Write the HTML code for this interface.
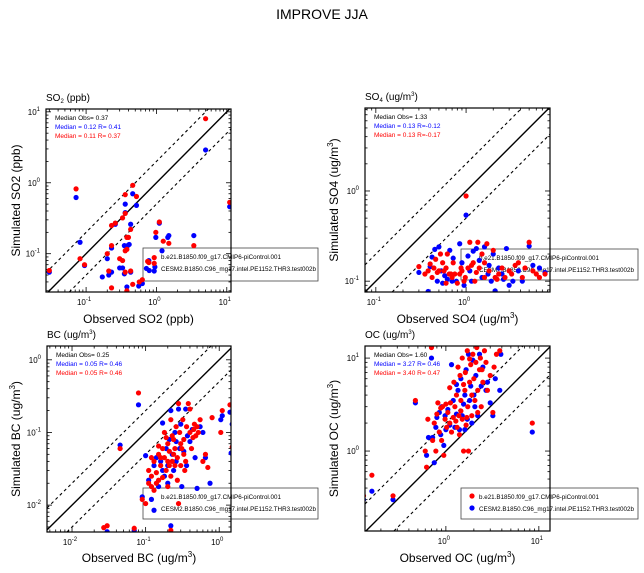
<!DOCTYPE html>
<html><head><meta charset="utf-8"><style>
html,body{margin:0;padding:0;background:#fff;overflow:hidden;width:644px;height:573px;}
svg{display:block;font-family:"Liberation Sans",sans-serif;}
</style></head><body>
<svg id="chart" width="644" height="573" viewBox="0 0 644 573" xmlns="http://www.w3.org/2000/svg" overflow="hidden">
<text x="322" y="19" text-anchor="middle" font-size="14">IMPROVE JJA</text>
</svg>
<script>
// ---- data ----
const so2Red = [[0.03,0.058],[0.072,0.82],[0.082,0.085],[0.095,0.07],[0.2,0.1],[0.21,0.057],[0.23,0.25],[0.23,0.13],[0.23,0.033],[0.26,0.27],[0.3,0.085],[0.33,0.08],[0.33,0.32],[0.36,0.055],[0.36,0.68],[0.36,0.37],[0.36,0.11],[0.38,0.03],[0.38,0.17],[0.38,0.115],[0.4,0.17],[0.43,0.22],[0.43,0.057],[0.46,0.92],[0.46,0.037],[0.52,0.64],[0.57,0.04],[0.63,0.043],[0.75,0.078],[0.78,0.075],[0.93,0.088],[0.93,0.073],[0.98,0.2],[1.1,0.28],[1.25,0.15],[1.5,0.14],[3.4,0.13],[5,8],[11,0.53]];
const so2Blue = [[0.03,0.055],[0.072,0.62],[0.082,0.145],[0.095,0.068],[0.17,0.047],[0.2,0.085],[0.21,0.05],[0.23,0.12],[0.23,0.055],[0.26,0.26],[0.3,0.063],[0.33,0.063],[0.35,0.052],[0.35,0.13],[0.36,0.5],[0.36,0.38],[0.38,0.034],[0.39,0.13],[0.41,0.135],[0.43,0.26],[0.43,0.055],[0.46,0.7],[0.52,0.48],[0.56,0.035],[0.63,0.038],[0.72,0.062],[0.78,0.08],[0.79,0.058],[0.93,0.057],[0.95,0.065],[0.98,0.17],[1.1,0.27],[1.2,0.11],[1.45,0.17],[1.5,0.18],[3.4,0.18],[5,2.9],[11,0.46]];
const so4Red = [[0.3,0.145],[0.35,0.12],[0.38,0.13],[0.4,0.155],[0.42,0.11],[0.44,0.14],[0.46,0.175],[0.48,0.125],[0.5,0.13],[0.52,0.2],[0.55,0.16],[0.57,0.13],[0.6,0.14],[0.62,0.2],[0.65,0.12],[0.68,0.12],[0.72,0.16],[0.75,0.12],[0.8,0.095],[0.85,0.12],[0.9,0.13],[0.95,0.1],[1.0,0.88],[1.05,0.14],[1.1,0.27],[1.15,0.15],[1.2,0.16],[1.3,0.125],[1.35,0.27],[1.4,0.14],[1.5,0.2],[1.6,0.11],[1.7,0.26],[1.8,0.13],[2.0,0.22],[2.1,0.11],[2.3,0.12],[2.5,0.14],[2.7,0.11],[3.0,0.13],[3.2,0.12],[3.5,0.15],[3.8,0.16],[4.2,0.11],[4.5,0.14],[5,0.27],[5.5,0.13],[6,0.12],[6.5,0.11],[7.5,0.12],[0.7,0.11],[0.6,0.095],[1.25,0.1],[2.2,0.105],[0.88,0.14],[1.6,0.16],[0.98,0.11]];
const so4Blue = [[0.3,0.125],[0.38,0.077],[0.4,0.145],[0.42,0.185],[0.45,0.225],[0.48,0.1],[0.5,0.24],[0.53,0.13],[0.55,0.095],[0.58,0.115],[0.62,0.105],[0.66,0.22],[0.7,0.1],[0.72,0.18],[0.78,0.1],[0.85,0.26],[0.9,0.16],[1.0,0.54],[1.05,0.19],[1.1,0.13],[1.2,0.215],[1.3,0.23],[1.4,0.17],[1.5,0.11],[1.6,0.24],[1.75,0.12],[1.9,0.1],[2.0,0.2],[2.1,0.078],[2.3,0.14],[2.5,0.12],[2.8,0.23],[3.0,0.09],[3.3,0.1],[3.8,0.13],[4.2,0.1],[5.0,0.245],[5.5,0.15],[6.5,0.14],[7.5,0.125],[0.95,0.09],[1.15,0.1],[1.8,0.15],[2.6,0.105]];
const bcRed = [[0.045,0.06],[0.027,0.0049],[0.03,0.0052],[0.07,0.0048],[0.08,0.35],[0.09,0.012],[0.1,0.0105],[0.11,0.03],[0.11,0.02],[0.12,0.018],[0.12,0.025],[0.13,0.04],[0.13,0.016],[0.14,0.028],[0.15,0.05],[0.15,0.022],[0.16,0.035],[0.17,0.06],[0.17,0.024],[0.18,0.1],[0.18,0.045],[0.19,0.03],[0.2,0.07],[0.2,0.04],[0.21,0.055],[0.22,0.15],[0.22,0.025],[0.23,0.04],[0.24,0.08],[0.25,0.06],[0.26,0.12],[0.27,0.045],[0.28,0.25],[0.29,0.1],[0.3,0.07],[0.3,0.035],[0.32,0.15],[0.33,0.05],[0.35,0.04],[0.36,0.12],[0.38,0.25],[0.4,0.1],[0.42,0.06],[0.45,0.11],[0.48,0.09],[0.5,0.12],[0.55,0.15],[0.6,0.04],[0.65,0.05],[0.7,0.033],[0.8,0.16],[1.05,0.1],[1.1,0.2],[1.4,0.24],[1.5,0.063],[0.22,0.0045],[0.28,0.0105],[0.15,0.065],[0.19,0.085],[0.25,0.035],[0.4,0.21],[0.12,0.045],[0.14,0.02],[0.2,0.018],[0.23,0.09],[0.33,0.08],[0.27,0.022],[0.16,0.045],[0.21,0.035],[0.24,0.05],[0.31,0.06],[0.34,0.03],[0.44,0.085],[0.52,0.1],[0.46,0.13]];
const bcBlue = [[0.03,0.0043],[0.045,0.067],[0.07,0.0045],[0.08,0.24],[0.09,0.013],[0.1,0.048],[0.11,0.022],[0.12,0.012],[0.13,0.0085],[0.13,0.035],[0.14,0.045],[0.15,0.018],[0.16,0.04],[0.17,0.135],[0.18,0.025],[0.19,0.06],[0.2,0.035],[0.21,0.08],[0.22,0.2],[0.22,0.0052],[0.23,0.05],[0.24,0.03],[0.25,0.1],[0.26,0.04],[0.28,0.21],[0.29,0.06],[0.3,0.13],[0.31,0.018],[0.33,0.055],[0.35,0.21],[0.37,0.09],[0.4,0.075],[0.43,0.11],[0.47,0.045],[0.5,0.017],[0.55,0.12],[0.6,0.1],[0.65,0.045],[0.75,0.02],[1.05,0.15],[1.1,0.17],[1.4,0.19],[1.45,0.052],[1.5,0.13],[0.17,0.03],[0.26,0.075],[0.2,0.02],[0.36,0.035]];
const ocRed = [[0.13,0.33],[0.16,0.55],[0.27,0.33],[0.47,3.5],[0.6,1.0],[0.62,0.67],[0.64,2.2],[0.7,13],[0.72,1.3],[0.75,2.0],[0.78,1.0],[0.8,2.5],[0.82,3.3],[0.85,1.6],[0.88,2.9],[0.9,1.3],[0.92,3.0],[0.95,0.9],[0.98,2.2],[1.0,3.2],[1.02,1.8],[1.05,2.6],[1.1,2.0],[1.12,3.3],[1.15,1.6],[1.2,2.3],[1.22,5.5],[1.25,3.0],[1.3,4.0],[1.32,1.8],[1.35,8.0],[1.38,2.4],[1.4,1.5],[1.42,6.5],[1.45,3.5],[1.5,2.2],[1.5,10],[1.55,1.0],[1.6,4.5],[1.62,7.0],[1.65,1.9],[1.7,12],[1.72,3.0],[1.75,1.0],[1.8,5.5],[1.85,8.5],[1.9,2.4],[1.95,11],[2.0,6.0],[2.05,3.5],[2.1,9.0],[2.15,13],[2.2,4.5],[2.3,7.5],[2.35,10],[2.4,3.0],[2.5,5.5],[2.6,12],[2.7,9.0],[2.8,4.5],[3.0,6.5],[3.2,2.6],[3.3,8.0],[3.5,11],[3.8,12],[8.5,2.0],[1.28,2.1],[1.45,2.7],[1.68,2.3],[1.9,4.0],[2.2,2.6],[1.1,4.8],[1.55,5.2],[2.45,7.5],[1.8,9.8]];
const ocBlue = [[0.13,0.3],[0.16,0.37],[0.27,0.3],[0.47,3.3],[0.62,0.9],[0.65,1.4],[0.7,10],[0.72,1.4],[0.75,0.75],[0.78,1.8],[0.8,2.3],[0.85,2.6],[0.88,1.5],[0.9,3.0],[0.95,1.15],[0.98,2.4],[1.0,1.7],[1.05,2.8],[1.1,1.9],[1.15,8.5],[1.2,3.5],[1.25,1.8],[1.3,2.5],[1.35,4.5],[1.4,1.7],[1.45,6.0],[1.5,2.4],[1.55,3.2],[1.6,1.7],[1.65,7.5],[1.7,2.2],[1.75,11],[1.8,3.5],[1.85,5.0],[1.9,2.0],[1.95,9.5],[2.0,4.0],[2.1,6.5],[2.2,2.4],[2.3,11],[2.4,5.0],[2.5,8.0],[2.7,4.5],[2.8,5.5],[3.0,3.3],[3.2,2.4],[3.4,6.0],[3.8,4.5],[3.9,11],[8.5,1.6],[1.3,5.2],[1.6,4.0],[2.05,3.0]];
const medianObs = ["0.37","1.33","0.25","1.60"];
const medianBlue = ["0.12 R= 0.41","0.13 R=-0.12","0.05 R= 0.46","3.27 R= 0.46"];
const medianRed = ["0.11 R= 0.37","0.13 R=-0.17","0.05 R= 0.46","3.40 R= 0.47"];
const legendNames = ["b.e21.B1850.f09_g17.CMIP6-piControl.001","CESM2.B1850.C96_mg17.intel.PE1152.THR3.test002b"];

const NS="http://www.w3.org/2000/svg";
const svg=document.getElementById('chart');
function mk(tag,attrs,parent){const e=document.createElementNS(NS,tag);for(const k in attrs)e.setAttribute(k,attrs[k]);(parent||svg).appendChild(e);return e;}

const panels=[
 {key:'so2',red:so2Red,blue:so2Blue,box:[46,109,231,292],xr:[-1.57,1.06],yr:[-1.54,1.04],ylab:'Simulated SO2 (ppb)',xlab:'Observed SO2 (ppb)',ylx:16,xly:323,leg:[143,248,318,281],dots:false},
 {key:'so4',red:so4Red,blue:so4Blue,box:[365,108,550,292],xr:[-1.12,0.93],yr:[-1.12,0.92],ylab:'Simulated SO4 (ug/m',xlab:'Observed SO4 (ug/m',ylx:334,xly:323,leg:[461,249,638,280],dots:false},
 {key:'bc',red:bcRed,blue:bcBlue,box:[47,346,231,532],xr:[-2.34,0.16],yr:[-2.37,0.19],ylab:'Simulated BC (ug/m',xlab:'Observed BC (ug/m',ylx:16,xly:562,leg:[143,488,318,519],dots:false},
 {key:'oc',red:ocRed,blue:ocBlue,box:[365,346,550,531],xr:[-0.87,1.12],yr:[-0.86,1.13],ylab:'Simulated OC (ug/m',xlab:'Observed OC (ug/m',ylx:334,xly:562,leg:[461,488,638,519],dots:true}
];

panels.forEach((p,pi)=>{
 const [x0,y0,x1,y1]=p.box;
 const g=mk('g',{});
 
 
 const sx=v=>x0+(Math.log10(v)-p.xr[0])/(p.xr[1]-p.xr[0])*(x1-x0);
 const sy=v=>y1-(Math.log10(v)-p.yr[0])/(p.yr[1]-p.yr[0])*(y1-y0);
 const cid='clip'+pi;
 const cp=mk('clipPath',{id:cid},g);mk('rect',{x:x0,y:y0,width:x1-x0,height:y1-y0},cp);
 for(let d=Math.floor(p.xr[0]);d<=Math.ceil(p.xr[1]);d++){
  for(let m=1;m<10;m++){
   const lv=d+Math.log10(m); if(lv<p.xr[0]||lv>p.xr[1])continue;
   const x=sx(Math.pow(10,lv)),L=m==1?5:2.5;
   mk('line',{x1:x,y1:y1,x2:x,y2:y1-L,stroke:'#000','stroke-width':0.8},g);
   mk('line',{x1:x,y1:y0,x2:x,y2:y0+L,stroke:'#000','stroke-width':0.8},g);
   if(m==1){const t=mk('text',{x:x-2,y:y1+13,'font-size':8,'text-anchor':'middle'},g);t.textContent='10';const s=mk('tspan',{dy:-4,'font-size':6},t);s.textContent=String(d);
    
    }
  }
 }
 for(let d=Math.floor(p.yr[0]);d<=Math.ceil(p.yr[1]);d++){
  for(let m=1;m<10;m++){
   const lv=d+Math.log10(m); if(lv<p.yr[0]||lv>p.yr[1])continue;
   const y=sy(Math.pow(10,lv)),L=m==1?5:2.5;
   mk('line',{x1:x0,y1:y,x2:x0+L,y2:y,stroke:'#000','stroke-width':0.8},g);
   mk('line',{x1:x1,y1:y,x2:x1-L,y2:y,stroke:'#000','stroke-width':0.8},g);
   if(m==1){const t=mk('text',{x:x0-6,y:y+3,'font-size':8,'text-anchor':'end'},g);t.textContent='10';const s=mk('tspan',{dy:-4,'font-size':6},t);s.textContent=String(d);
    
    }
  }
 }
 // reference lines clipped analytically to the box
 [[1,'none','1.4'],[2,'3,3','1.1'],[0.5,'3,3','1.1']].forEach(([f,da,w])=>{
  const lf=Math.log10(f);
  const a=Math.max(p.xr[0],p.yr[0]-lf), b=Math.min(p.xr[1],p.yr[1]-lf);
  if(b<=a) return;
  const l=mk('line',{x1:sx(Math.pow(10,a)),y1:sy(f*Math.pow(10,a)),x2:sx(Math.pow(10,b)),y2:sy(f*Math.pow(10,b)),stroke:'#000','stroke-width':w,'stroke-dasharray':da},g);
  
  
 });
 const [lx0,ly0,lx1,ly1]=p.leg;
 const drawLegend=()=>{
  const lgd=mk('g',{},g);
  
  
  mk('rect',{x:lx0,y:ly0,width:lx1-lx0,height:ly1-ly0,fill:p.dots?'#fff':'none',stroke:'#444','stroke-width':0.8},lgd);
  legendNames.forEach((n,i)=>{
   const yy=ly0+10+i*12;
   if(p.dots){const c=mk('circle',{cx:lx0+11,cy:yy-2,r:2.6,fill:i==0?'#ff0000':'#0000ff'},lgd);
    
    }
   const t=mk('text',{x:lx0+18,y:yy+1,'font-size':6.3,textLength:i==0?120:155,lengthAdjust:'spacingAndGlyphs'},lgd);t.textContent=n;
   
   
  });
 };
 if(!p.dots) drawLegend();
 const pg=mk('g',{'clip-path':'url(#'+cid+')'},g);
 const inBox=pt=>{const X=sx(pt[0]),Y=sy(pt[1]);return X>=x0-2&&X<=x1+2&&Y>=y0-2&&Y<=y1+2;};
 p.blue.forEach(pt=>{if(!inBox(pt))return;const c=mk('circle',{cx:sx(pt[0]),cy:sy(pt[1]),r:2.6,fill:'#0000ff'},pg);
  
  });
 p.red.forEach(pt=>{if(!inBox(pt))return;const c=mk('circle',{cx:sx(pt[0]),cy:sy(pt[1]),r:2.6,fill:'#ff0000'},pg);
  
  });
 if(p.dots) drawLegend();
 mk('rect',{x:x0,y:y0,width:x1-x0,height:y1-y0,fill:'none',stroke:'#000','stroke-width':1.2},g);
 const tt=mk('text',{x:x0,y:y0-8,'font-size':10},g);
 
 
 if(p.key=='so2'||p.key=='so4'){tt.textContent='SO';const s=mk('tspan',{dy:2,'font-size':6},tt);s.textContent=p.key=='so2'?'2':'4';const r=mk('tspan',{dy:-2},tt);r.textContent=p.key=='so2'?' (ppb)':' (ug/m';if(p.key=='so4'){const e=mk('tspan',{dy:-4,'font-size':6},tt);e.textContent='3';const q=mk('tspan',{dy:4},tt);q.textContent=')';}}
 else{tt.textContent=p.key.toUpperCase()+' (ug/m';const e=mk('tspan',{dy:-4,'font-size':6},tt);e.textContent='3';const q=mk('tspan',{dy:4},tt);q.textContent=')';}
 const cx=(x0+x1)/2,cy=(y0+y1)/2;
 const xl=mk('text',{x:cx,y:p.xly,'font-size':12,'text-anchor':'middle'},g);
 
 
 const yl=mk('text',{x:0,y:0,'font-size':12,'text-anchor':'middle',transform:'translate('+(p.ylx+4)+','+cy+') rotate(-90)'},g);
 
 
 if(p.key=='so2'){xl.textContent=p.xlab;yl.textContent=p.ylab;}
 else{[[xl,p.xlab],[yl,p.ylab]].forEach(([el,s])=>{el.textContent=s;const e=mk('tspan',{dy:-5,'font-size':8},el);e.textContent='3';const q=mk('tspan',{dy:5},el);q.textContent=')';});}
 const m1=mk('text',{x:x0+9,y:y0+11,'font-size':6.5,fill:'#000'},g);m1.textContent='Median Obs= '+medianObs[pi];
 
 
 const m2=mk('text',{x:x0+9,y:y0+20,'font-size':6.5,fill:'#0000ff'},g);m2.textContent='Median = '+medianBlue[pi];
 
 
 const m3=mk('text',{x:x0+9,y:y0+29,'font-size':6.5,fill:'#ff0000'},g);m3.textContent='Median = '+medianRed[pi];
 
 
});
</script>
</body></html>
